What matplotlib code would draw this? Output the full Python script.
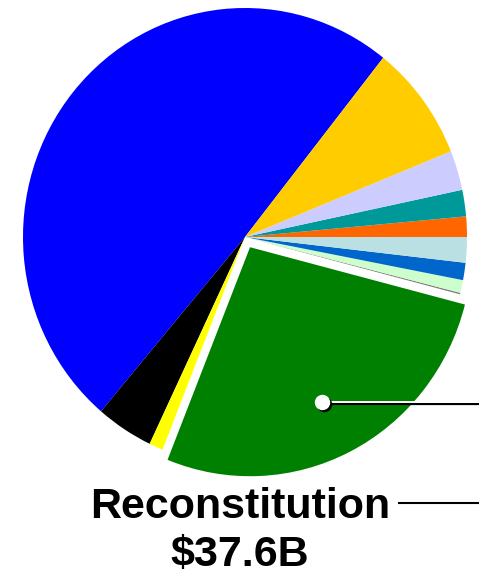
import matplotlib
matplotlib.use('Agg')
import matplotlib.pyplot as plt
from matplotlib.patches import Circle

# Valeurs en milliards de dollars
categories = ['Main', 'Black', 'Yellow', 'Reconstitution', 'Gray', 'Light green',
              'Mid blue', 'Light cyan', 'Orange', 'Teal', 'Lavender', 'Gold']
values = [68.8, 5.8, 1.4, 37.6, 0.15, 1.25, 1.7, 2.5, 2.0, 2.6, 3.9, 11.4]
colors = ['#0000FF', '#000000', '#FFFF00', '#008000', '#808080', '#CCFFCC',
          '#0066CC', '#BBE0E3', '#FF6600', '#009999', '#CCCCFF', '#FFCC00']
explode = [0.05 if c == 'Reconstitution' else 0 for c in categories]

label_name = 'Reconstitution'
label_value = '$37.6B'

W, H = 479, 576
fig = plt.figure(figsize=(W / 100, H / 100), dpi=100)

# Le camembert est légèrement étiré verticalement dans l'original
cx, cy, rx, ry = 245, 237, 222, 229
ax = fig.add_axes([(cx - rx) / W, (H - cy - ry) / H, 2 * rx / W, 2 * ry / H])
ax.pie(values, colors=colors, explode=explode, startangle=51.5,
       counterclock=True, radius=1.0, wedgeprops=dict(linewidth=0))
ax.set_aspect('auto')
ax.set_xlim(-1, 1)
ax.set_ylim(-1, 1)
ax.axis('off')

# Calque d'annotation en pixels
ov = fig.add_axes([0, 0, 1, 1])
ov.set_xlim(0, W)
ov.set_ylim(H, 0)
ov.axis('off')

# Pointeur avec ombre
ov.plot([323, W], [403.5, 403.5], color='black', lw=1.6, solid_capstyle='butt')
ov.plot([323, W], [401.5, 401.5], color='white', lw=1.4, solid_capstyle='butt')
ov.add_patch(Circle((324.5, 404.5), 7, color='black', zorder=3))
ov.add_patch(Circle((322.5, 402.5), 7, color='white', zorder=4))

# Étiquette
ov.text(240, 518, label_name, ha='center', va='baseline', fontsize=31,
        fontweight='bold', family='Liberation Sans', color='black')
ov.text(240, 566, label_value, ha='center', va='baseline', fontsize=31,
        fontweight='bold', family='Liberation Sans', color='black')
ov.plot([398, W], [503, 503], color='black', lw=1.5, solid_capstyle='butt')

fig.savefig('out.png', dpi=100, facecolor='white')
